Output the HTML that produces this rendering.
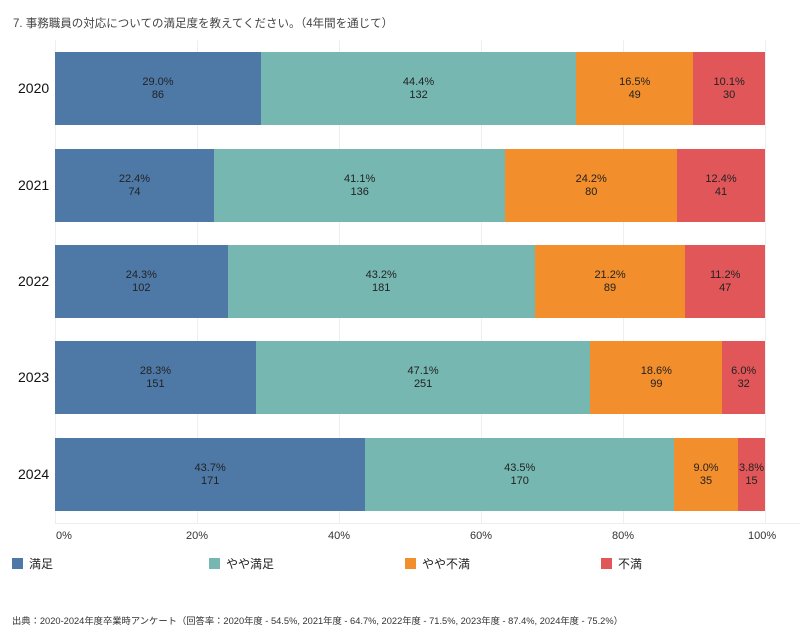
<!DOCTYPE html>
<html><head><meta charset="utf-8"><style>
body{margin:0;width:800px;height:640px;background:#fff;position:relative;overflow:hidden;font-family:"Liberation Sans","Noto Sans CJK JP",sans-serif;color:#222}
.a{position:absolute}
.g{position:absolute;top:40px;height:483px;width:1px;background:#eee}
.seg{position:absolute;height:73px;font-size:11px;text-align:center;display:flex;flex-direction:column;justify-content:center;line-height:13px;color:#222}
.yl{position:absolute;left:18px;font-size:14px;color:#111}
.tk{position:absolute;top:530px;font-size:11px;color:#333}
.lg{position:absolute;top:555px;font-size:12px;color:#222}
.lg i{display:inline-block;width:11px;height:11px;vertical-align:-1px;margin-right:6px}
</style></head><body>
<div class="a" style="left:13px;top:15px;font-size:11.5px;color:#444">7. 事務職員の対応についての満足度を教えてください。（4年間を通じて）</div>
<div class="g" style="left:55px"></div><div class="g" style="left:197px"></div><div class="g" style="left:339px"></div><div class="g" style="left:481px"></div><div class="g" style="left:623px"></div><div class="g" style="left:765px"></div>
<div class="a" style="left:55px;top:523px;width:745px;height:1px;background:#eee"></div>
<div id="bars"></div>
<div class="tk" style="left:56px">0%</div><div class="tk" style="left:186px">20%</div><div class="tk" style="left:328px">40%</div><div class="tk" style="left:470px">60%</div><div class="tk" style="left:612px">80%</div><div class="tk" style="left:748px">100%</div>
<div class="lg" style="left:12px"><i style="background:#4e79a7"></i>満足</div>
<div class="lg" style="left:209px"><i style="background:#76b7b2"></i>やや満足</div>
<div class="lg" style="left:405px"><i style="background:#f28e2b"></i>やや不満</div>
<div class="lg" style="left:601px"><i style="background:#e15759"></i>不満</div>
<div class="a" style="left:12px;top:613px;font-size:9.3px;color:#333">出典：2020-2024年度卒業時アンケート（回答率：2020年度 - 54.5%, 2021年度 - 64.7%, 2022年度 - 71.5%, 2023年度 - 87.4%, 2024年度 - 75.2%）</div>
<script>
var d=[[2020,52,[[29.0,86],[44.4,132],[16.5,49],[10.1,30]]],[2021,149,[[22.4,74],[41.1,136],[24.2,80],[12.4,41]]],[2022,245,[[24.3,102],[43.2,181],[21.2,89],[11.2,47]]],[2023,341,[[28.3,151],[47.1,251],[18.6,99],[6.0,32]]],[2024,438,[[43.7,171],[43.5,170],[9.0,35],[3.8,15]]]];
var c=["#4e79a7","#76b7b2","#f28e2b","#e15759"],h="";
d.forEach(function(r){var x=55,t=0;r[2].forEach(function(s){t+=s[0]});
h+='<div class="yl" style="top:'+(r[1]+28)+'px">'+r[0]+'</div>';
r[2].forEach(function(s,i){var w=s[0]/t*710;h+='<div class="seg" style="left:'+x+'px;top:'+r[1]+'px;width:'+w+'px;background:'+c[i]+'"><span>'+s[0].toFixed(1)+'%</span><span>'+s[1]+'</span></div>';x+=w;});});
document.getElementById("bars").innerHTML=h;
</script>
</body></html>
